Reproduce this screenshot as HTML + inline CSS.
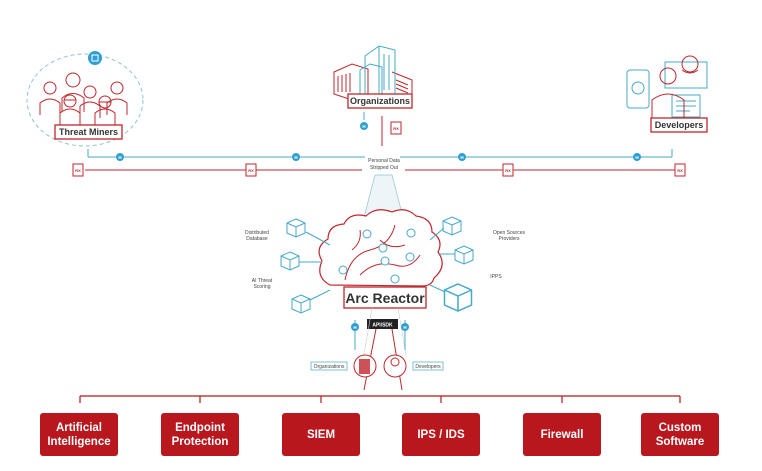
<!DOCTYPE html>
<html><head><meta charset="utf-8"><style>
html,body{margin:0;padding:0;background:#fff;}
svg{display:block;font-family:"Liberation Sans",sans-serif;}
.bt{fill:#fff;stroke:#c0272d;stroke-width:1.3}
.lbl{font-size:9px;font-weight:bold;fill:#333;text-anchor:middle}
.sm{font-size:5px;fill:#444;text-anchor:middle}
.rb{fill:#b8171d;}
.rt{fill:#fff;font-size:11.5px;font-weight:bold;text-anchor:middle;font-family:"Liberation Sans Narrow","Liberation Sans",sans-serif}
.bl{stroke:#45a9c9;fill:none;stroke-width:1}
.rd{stroke:#c0272d;fill:none;stroke-width:1}
</style></head><body>
<svg width="762" height="471" viewBox="0 0 762 471">
<defs>
<g id="cube"><path d="M0,-8 L9,-4 L9,6 L0,10 L-9,6 L-9,-4 Z M-9,-4 L0,0 L9,-4 M0,0 L0,10" class="bl"/></g>
<g id="doc"><rect x="-5" y="-6" width="10" height="12" fill="#fff" stroke="#c0272d" stroke-width="1"/><text y="2" font-size="4" fill="#c0272d" text-anchor="middle" font-weight="bold">RX</text></g>
<g id="ico"><circle r="4" fill="#2e9fd0"/><text y="1.8" font-size="4.5" fill="#fff" text-anchor="middle" font-weight="bold">H</text></g>
</defs>
<!-- threat miners -->
<ellipse cx="85" cy="100" rx="58" ry="46" fill="none" stroke="#8fc3d4" stroke-dasharray="4,3"/>
<circle cx="95" cy="58" r="7" fill="#2e9fd0"/><rect x="92" y="55" width="6" height="6" fill="none" stroke="#fff"/>
<g class="rd" stroke-width="1.3">
<circle cx="50" cy="88" r="6"/><path d="M40,115 v-12 q10,-8 20,0 v12"/>
<circle cx="73" cy="80" r="7"/><path d="M62,112 v-14 q11,-9 22,0 v14"/>
<circle cx="90" cy="92" r="6"/><path d="M80,118 v-12 q10,-8 20,0 v12"/>
<circle cx="117" cy="88" r="6"/><path d="M107,115 v-12 q10,-8 20,0 v12"/>
<circle cx="70" cy="101" r="6"/><path d="M60,125 v-12 q10,-8 20,0 v12"/>
<circle cx="105" cy="102" r="6"/><path d="M95,125 v-12 q10,-8 20,0 v12"/>
<path d="M64,100 h12 M99,102 h12"/>
</g>
<rect class="bt" x="55" y="125" width="67" height="14"/><text class="lbl" x="88.5" y="135">Threat Miners</text>
<!-- organizations -->
<g class="rd"><path d="M334,72 l18,-8 l16,5 v25 l-16,6 l-18,-6 z"/><path d="M338,76 v16 M342,75 v17 M346,74 v18 M350,73 v19"/><path d="M392,72 l20,8 v16 l-14,6 h-6"/><path d="M396,80 l12,5 M396,84 l12,5 M396,88 l12,5"/></g>
<g class="bl"><path d="M365,56 l14,-10 l16,4 v44 h-30 z"/><path d="M379,46 v48"/><path d="M384,54 v36 M389,55 v35"/></g>
<g class="bl"><path d="M360,70 l10,-6 l12,3 v27 h-22 z"/></g>
<rect class="bt" x="348" y="94" width="64" height="14"/><text class="lbl" x="380" y="104">Organizations</text>
<use href="#ico" x="364" y="126"/><use href="#doc" x="396" y="128"/>
<line x1="364" y1="112" x2="364" y2="120" class="bl"/>
<path d="M382,116 v30" class="rd"/>
<!-- developers -->
<g class="bl"><rect x="627" y="70" width="22" height="38" rx="3"/><circle cx="638" cy="88" r="6"/><rect x="665" y="62" width="42" height="26"/><rect x="672" y="95" width="28" height="22"/><path d="M676,101 h20 M676,106 h20 M676,111 h14"/></g>
<g class="rd" stroke-width="1.3"><circle cx="668" cy="76" r="8"/><path d="M652,118 v-18 q16,-12 32,0 v18"/><circle cx="690" cy="64" r="8"/><path d="M682,70 q8,6 16,0"/></g>
<rect class="bt" x="651" y="118" width="56" height="14"/><text class="lbl" x="679" y="128">Developers</text>
<!-- top lines -->
<line x1="88" y1="157" x2="365" y2="157" class="bl"/>
<line x1="400" y1="157" x2="672" y2="157" class="bl"/>
<path d="M88,157 v-8 M672,157 v-8" class="bl"/>
<line x1="85" y1="170" x2="362" y2="170" class="rd"/>
<line x1="405" y1="170" x2="680" y2="170" class="rd"/>
<use href="#ico" x="120" y="157"/><use href="#ico" x="296" y="157"/><use href="#ico" x="462" y="157"/><use href="#ico" x="637" y="157"/>
<use href="#doc" x="78" y="170"/><use href="#doc" x="251" y="170"/><use href="#doc" x="508" y="170"/><use href="#doc" x="680" y="170"/>
<text class="sm" x="384" y="162">Personal Data</text><text class="sm" x="384" y="169">Stripped Out</text>
<!-- beam -->
<path d="M375,175 L362,225 L405,225 L392,175 Z" fill="#eef5f8" stroke="#8fc3d4" stroke-width="0.7"/>
<!-- brain -->
<path d="M330,285 q-15,-8 -8,-24 q-8,-14 6,-22 q0,-14 16,-15 q6,-12 22,-8 q10,-10 26,-4 q14,-6 24,4 q16,2 16,16 q12,8 6,20 q10,14 -4,26 q-2,8 -12,8 z" fill="#fff" stroke="#c0272d" stroke-width="1.2"/>
<g class="rd"><path d="M345,280 q5,-25 25,-30 q20,-5 25,-25"/><path d="M360,275 q15,-15 35,-10 q15,5 25,-10"/><path d="M380,240 q10,10 25,5"/><path d="M352,250 q10,-8 8,-20"/></g>
<g fill="#fff" stroke="#45a9c9"><circle cx="343" cy="270" r="4"/><circle cx="367" cy="234" r="4"/><circle cx="383" cy="248" r="4"/><circle cx="385" cy="261" r="4"/><circle cx="410" cy="257" r="4"/><circle cx="411" cy="233" r="4"/><circle cx="395" cy="279" r="4"/></g>
<!-- cubes -->
<use href="#cube" x="296" y="227"/><use href="#cube" x="290" y="260"/><use href="#cube" x="301" y="303"/>
<use href="#cube" x="452" y="225"/><use href="#cube" x="464" y="254"/><use transform="translate(458,296) scale(1.5)" href="#cube"/>
<g class="bl"><path d="M306,232 L330,245 M299,262 L322,262 M310,300 L330,290 M444,228 L430,240 M455,254 L440,254 M445,292 L430,285"/></g>
<text class="sm" x="257" y="234">Distributed</text><text class="sm" x="257" y="240">Database</text>
<text class="sm" x="262" y="282">AI Threat</text><text class="sm" x="262" y="288">Scoring</text>
<text class="sm" x="509" y="234">Open Sources</text><text class="sm" x="509" y="240">Providers</text>
<text class="sm" x="496" y="278">IPPS</text>
<rect class="bt" x="344" y="287" width="82" height="21"/><text x="385" y="303" font-size="14" font-weight="bold" fill="#333" text-anchor="middle">Arc Reactor</text>
<rect x="367" y="319" width="31" height="10" fill="#222"/><text x="382.5" y="326.5" font-size="5" fill="#fff" text-anchor="middle" font-weight="bold">API/SDK</text>
<path d="M372,308 L364,355 M398,308 L406,355" stroke="#ccc" stroke-width="0.6" fill="none"/>
<path d="M355,350 v-30 M405,350 v-30" class="bl"/>
<use href="#ico" x="355" y="327"/><use href="#ico" x="405" y="327"/>
<path d="M376,329 L364,390 M392,329 L402,390" class="rd"/>
<circle cx="365" cy="366" r="11" fill="#fff" stroke="#c0272d"/><rect x="359" y="359" width="11" height="15" fill="#c0272d" opacity="0.8"/>
<circle cx="395" cy="366" r="11" fill="#fff" stroke="#c0272d"/><circle cx="395" cy="362" r="4" fill="none" stroke="#c0272d"/>
<rect x="311" y="362" width="36" height="8" fill="#fff" stroke="#45a9c9" stroke-width="0.7"/><text class="sm" x="329" y="368">Organizations</text>
<rect x="413" y="362" width="30" height="8" fill="#fff" stroke="#45a9c9" stroke-width="0.7"/><text class="sm" x="428" y="368">Developers</text>
<!-- bottom -->
<line x1="80" y1="396" x2="680" y2="396" stroke="#b8171d" stroke-width="1.2"/>
<g stroke="#b8171d" stroke-width="1.2"><path d="M80,396 v7 M200,396 v7 M321,396 v7 M441,396 v7 M562,396 v7 M680,396 v7"/></g>
<rect class="rb" x="40" y="413" width="78" height="43" rx="3"/><text class="rt" x="79" y="431">Artificial</text><text class="rt" x="79" y="445">Intelligence</text>
<rect class="rb" x="161" y="413" width="78" height="43" rx="3"/><text class="rt" x="200" y="431">Endpoint</text><text class="rt" x="200" y="445">Protection</text>
<rect class="rb" x="282" y="413" width="78" height="43" rx="3"/><text class="rt" x="321" y="438">SIEM</text>
<rect class="rb" x="402" y="413" width="78" height="43" rx="3"/><text class="rt" x="441" y="438">IPS / IDS</text>
<rect class="rb" x="523" y="413" width="78" height="43" rx="3"/><text class="rt" x="562" y="438">Firewall</text>
<rect class="rb" x="641" y="413" width="78" height="43" rx="3"/><text class="rt" x="680" y="431">Custom</text><text class="rt" x="680" y="445">Software</text>
</svg>
</body></html>
